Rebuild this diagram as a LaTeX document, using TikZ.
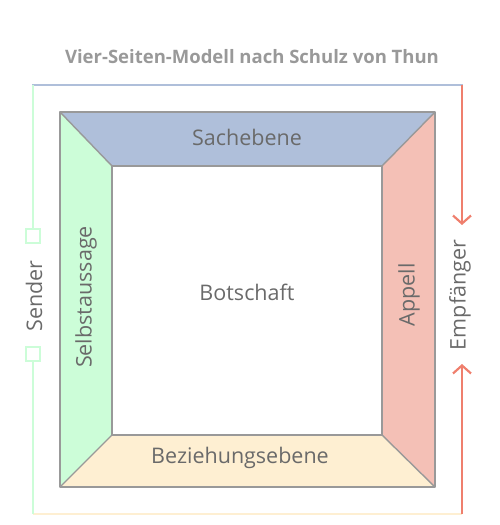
\documentclass[tikz,border=0pt]{standalone}
\usepackage{fontspec}
\setmainfont{Open Sans}
\usetikzlibrary{arrows.meta,positioning}
\definecolor{ModelSach}{HTML}{AFBFDA}
\definecolor{ModelSelbst}{HTML}{CCFDD8}
\definecolor{ModelAppell}{HTML}{F4C0B6}
\definecolor{ModelBez}{HTML}{FEEFD2}
\definecolor{ModelFrame}{HTML}{999999}
\definecolor{ModelText}{HTML}{6A6A6A}
\definecolor{ModelRed}{HTML}{EF7F6D}

\begin{document}
\begin{tikzpicture}[x=1pt,y=-1pt,
    side/.style={draw=ModelFrame,line width=1.4pt,line join=round},
    caption/.style={font=\fontsize{21.5}{21.5}\selectfont,text=ModelText,inner sep=0pt},
    marker/.style={draw=ModelSelbst,line width=1.8pt,minimum size=14pt,inner sep=0pt}]
  \useasboundingbox (0,0) rectangle (500,525);
  % Ecken aussen und innen
  \coordinate (oa) at (60,112);  \coordinate (ob) at (435,112);
  \coordinate (oc) at (435,487); \coordinate (od) at (60,487);
  \coordinate (ia) at (112,166); \coordinate (ib) at (382,166);
  \coordinate (ic) at (382,435); \coordinate (id) at (112,435);
  % vier Seiten
  \fill[ModelSach]   (oa) -- (ob) -- (ib) -- (ia) -- cycle;
  \fill[ModelAppell] (ob) -- (oc) -- (ic) -- (ib) -- cycle;
  \fill[ModelBez]    (oc) -- (od) -- (id) -- (ic) -- cycle;
  \fill[ModelSelbst] (od) -- (oa) -- (ia) -- (id) -- cycle;
  \draw[side] (oa) rectangle (oc);
  \draw[side] (ia) rectangle (ic);
  \draw[side] (oa) -- (ia) (ob) -- (ib) (oc) -- (ic) (od) -- (id);
  \node[caption] (sach) at (247,137) {Sachebene};
  \node[caption] (bez) at (240,458) {Beziehungsebene};
  \node[caption,rotate=90] (selbst) at (86,297) {Selbstaussage};
  \node[caption,rotate=90] (appell) at (409,295) {Appell};
  \node[caption] (botschaft) at (247,292) {Botschaft};
  % Rahmen
  \coordinate (ftl) at (33,85);  \coordinate (ftr) at (462,85);
  \coordinate (fbl) at (33,514); \coordinate (fbr) at (462,514);
  \draw[ModelSach,line width=2pt] ([xshift=-1pt]ftl) -- ([xshift=1pt]ftr);
  \draw[ModelBez,line width=2pt] (fbl) -- (fbr);
  % Sender
  \node[marker] (snd1) at (33,236) {};
  \node[marker] (snd2) at (33,354) {};
  \node[caption,rotate=90] (sender) at (34,296) {Sender};
  \draw[ModelSelbst,line width=2pt] (ftl) -- (snd1.north);
  \draw[ModelSelbst,line width=2pt] (snd2.south) -- (fbl);
  % Empfänger
  \coordinate (emp1) at (462,225);
  \coordinate (emp2) at (462,364);
  \node[caption,rotate=90] (empf) at (460,295) {Empfänger};
  \draw[ModelRed,line width=2.2pt,-{Straight Barb[length=8pt,width=18pt]}] (ftr) -- (emp1);
  \draw[ModelRed,line width=2.2pt,-{Straight Barb[length=8pt,width=18pt]}] (fbr) -- (emp2);
  % Titel
  \node[font=\fontsize{18.5}{18.5}\selectfont\bfseries,text=ModelFrame] (titel) at (252,57)
    {Vier-Seiten-Modell nach Schulz von Thun};
\end{tikzpicture}
\end{document}
